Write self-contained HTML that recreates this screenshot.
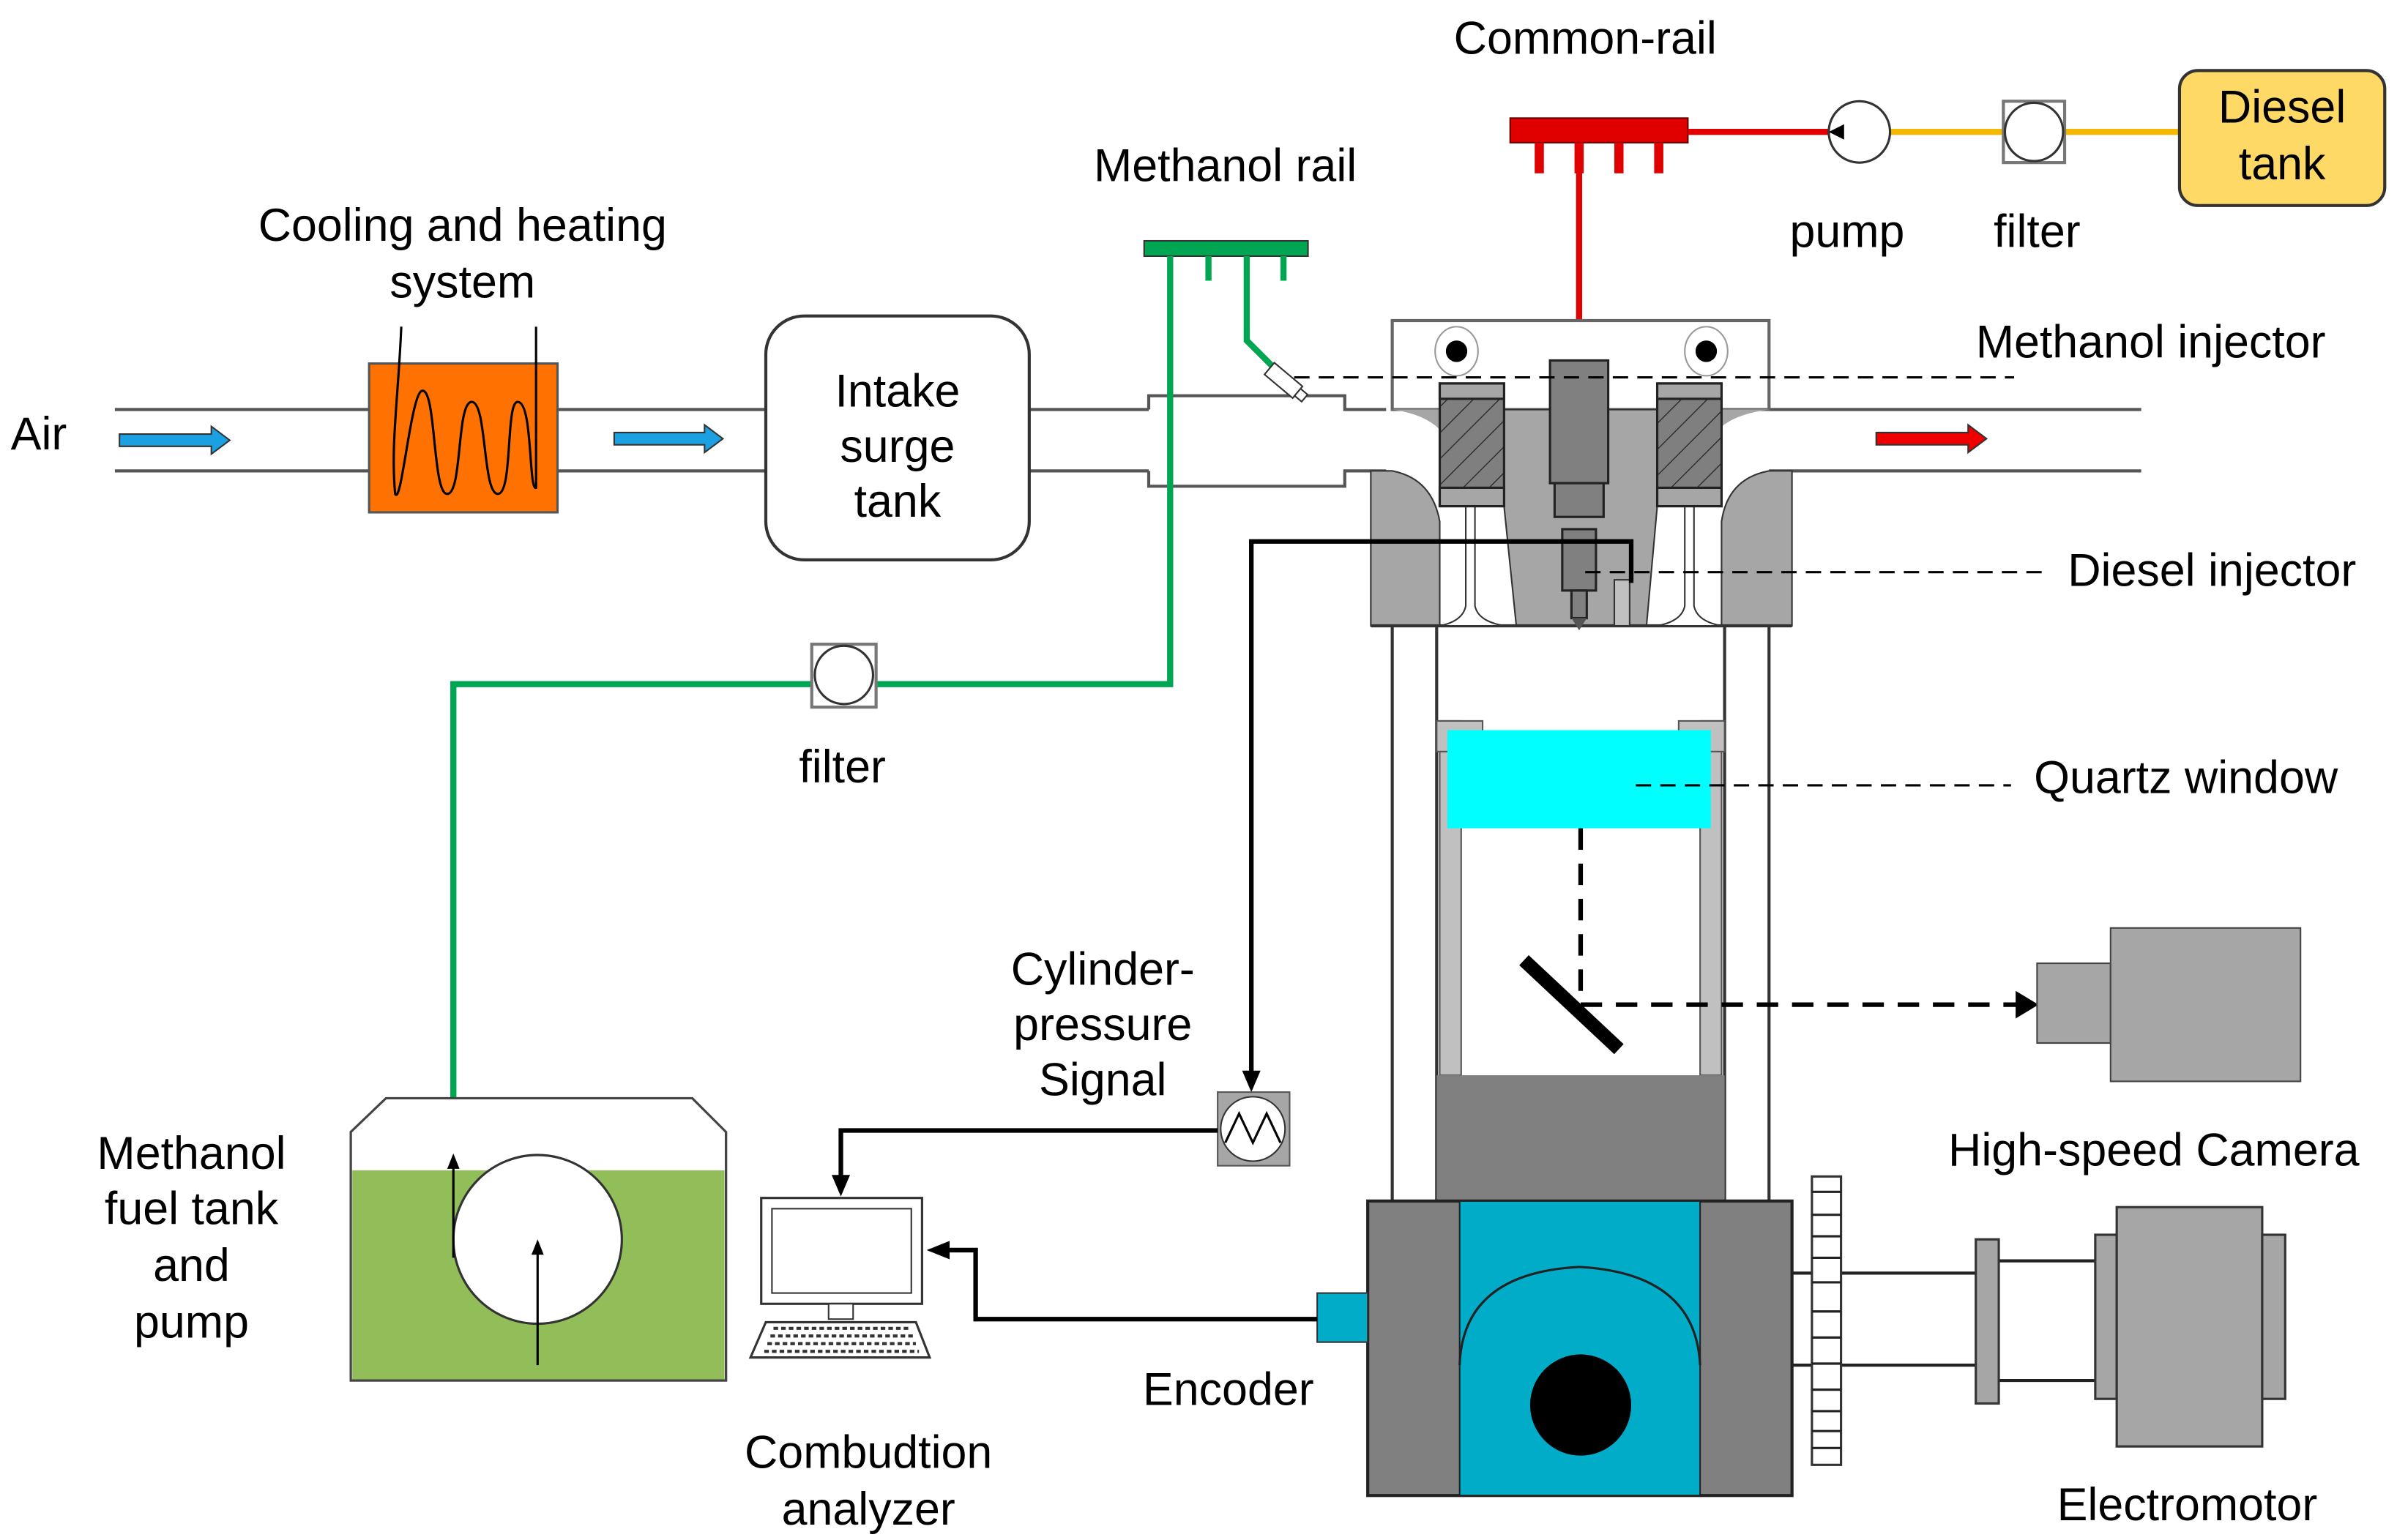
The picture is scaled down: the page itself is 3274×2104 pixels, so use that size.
<!DOCTYPE html>
<html><head><meta charset="utf-8"><style>html,body{margin:0;padding:0;background:#fff}svg{display:block}text{font-family:"Liberation Sans","DejaVu Sans",sans-serif;font-size:30px;fill:#000}</style></head>
<body>
<svg width="3274" height="2104" viewBox="0 0 1565 1004" preserveAspectRatio="none" xmlns="http://www.w3.org/2000/svg">
<defs>
<pattern id="hatch" width="12" height="12" patternUnits="userSpaceOnUse" patternTransform="rotate(45)"><rect width="12" height="12" fill="#7f7f7f"/><line x1="0" y1="0" x2="0" y2="12" stroke="#222" stroke-width="1.2"/></pattern>
</defs>
<g stroke="#555" stroke-width="2" fill="none">
<line x1="75" y1="267" x2="500" y2="267"/><line x1="75" y1="307" x2="500" y2="307"/>
<line x1="672" y1="267" x2="750" y2="267"/><line x1="672" y1="307" x2="750" y2="307"/>
<path d="M750,267 V258 H878 V267 H905"/><path d="M750,307 V317 H878 V307 H905"/>
<line x1="1155" y1="267" x2="1398" y2="267"/><line x1="1155" y1="307" x2="1398" y2="307"/>
</g>
<rect x="241" y="237" width="123" height="97" fill="#ff7100" stroke="#555" stroke-width="1.5"/>
<path d="M262,213 C260,260 255,290 258,322 C262,330 268,260 275,255 C285,250 282,322 292,322 C302,322 298,262 308,262 C318,262 315,322 325,322 C335,322 330,262 338,262 C348,262 345,320 350,318 L350,213" fill="none" stroke="#000" stroke-width="1.5"/>
<g stroke="#333" stroke-width="1">
<path d="M78,283 H138 V278 L150,287 L138,296 V291 H78 z" fill="#1ba1e2"/>
<path d="M401,282 H460 V277 L472,286 L460,295 V290 H401 z" fill="#1ba1e2"/>
<path d="M1225,282 H1285 V277 L1297,286 L1285,295 V290 H1225 z" fill="#e00"/>
</g>
<rect x="500" y="206" width="172" height="159" rx="25" fill="#fff" stroke="#333" stroke-width="2"/>
<text x="586" y="265" text-anchor="middle">Intake</text><text x="586" y="301" text-anchor="middle">surge</text><text x="586" y="337" text-anchor="middle">tank</text>
<rect x="747" y="157" width="107" height="10" fill="#00a651" stroke="#333"/>
<g stroke="#00a651" stroke-width="4" fill="none">
<line x1="789" y1="167" x2="789" y2="183"/><line x1="814" y1="167" x2="814" y2="183"/><line x1="838" y1="167" x2="838" y2="183"/>
<path d="M764,167 V446 H572"/><path d="M530,446 H296 V755"/>
<path d="M814,183 V222 L832,240"/>
</g>
<g transform="translate(838,248) rotate(40)"><rect x="-12" y="-5" width="24" height="10" fill="#fff" stroke="#333"/><rect x="12" y="-3" width="6" height="6" fill="#fff" stroke="#333"/></g>
<rect x="530" y="420" width="42" height="41" fill="#fff" stroke="#777" stroke-width="2"/><circle cx="551" cy="440" r="19" fill="#fff" stroke="#333" stroke-width="1.5"/>
<rect x="986" y="77" width="116" height="16" fill="#e00000" stroke="#600"/>
<g stroke="#e00000" stroke-width="6"><line x1="1005" y1="93" x2="1005" y2="113"/><line x1="1031" y1="93" x2="1031" y2="113"/><line x1="1057" y1="93" x2="1057" y2="113"/><line x1="1083" y1="93" x2="1083" y2="113"/></g>
<line x1="1031" y1="93" x2="1031" y2="236" stroke="#e00000" stroke-width="4"/>
<line x1="1102" y1="86" x2="1195" y2="86" stroke="#e00000" stroke-width="4"/>
<line x1="1233" y1="86" x2="1308" y2="86" stroke="#f5b800" stroke-width="4"/><line x1="1348" y1="86" x2="1423" y2="86" stroke="#f5b800" stroke-width="4"/>
<circle cx="1214" cy="86" r="20" fill="#fff" stroke="#333" stroke-width="1.5"/><path d="M1194,86 l10,-5 v10z" fill="#000"/>
<rect x="1308" y="66" width="40" height="40" fill="#fff" stroke="#777" stroke-width="2"/><circle cx="1328" cy="86" r="19" fill="#fff" stroke="#333" stroke-width="1.5"/>
<rect x="1423" y="46" width="134" height="88" rx="12" fill="#ffd966" stroke="#333" stroke-width="2"/>
<text x="1490" y="80" text-anchor="middle">Diesel</text><text x="1490" y="117" text-anchor="middle">tank</text>
<rect x="909" y="209" width="246" height="58" fill="#fff" stroke="#666" stroke-width="2"/>
<path d="M895,307 H909 Q935,312 940,340 V408 H895 z" fill="#a6a6a6" stroke="#333" stroke-width="1"/>
<path d="M1170,307 H1155 Q1128,312 1124,340 V408 H1170 z" fill="#a6a6a6" stroke="#333" stroke-width="1"/>
<path d="M982,267 H1082 V330 L1075,408 H990 L982,330 z" fill="#a6a6a6" stroke="#333"/>
<path d="M909,267 Q930,270 940,280 V267z M1155,267 Q1132,270 1122,280 V267z" fill="#a6a6a6"/>
<line x1="895" y1="408" x2="1170" y2="408" stroke="#333" stroke-width="2"/>
<g fill="#fff" stroke="#333" stroke-width="1"><path d="M957,330 V395 Q955,405 940,408 H982 Q965,405 963,395 V330z"/><path d="M1100,330 V395 Q1098,405 1082,408 H1124 Q1108,405 1106,395 V330z"/></g>
<g stroke="#222" stroke-width="1.5"><rect x="940" y="250" width="42" height="80" fill="url(#hatch)"/><rect x="940" y="250" width="42" height="10" fill="#a6a6a6"/><rect x="940" y="318" width="42" height="12" fill="#a6a6a6"/>
<rect x="1082" y="250" width="42" height="80" fill="url(#hatch)"/><rect x="1082" y="250" width="42" height="10" fill="#a6a6a6"/><rect x="1082" y="318" width="42" height="12" fill="#a6a6a6"/></g>
<g fill="none" stroke="#999"><ellipse cx="951" cy="229" rx="14" ry="16"/><ellipse cx="1114" cy="229" rx="14" ry="16"/></g>
<circle cx="951" cy="229" r="7" fill="#000"/><circle cx="1114" cy="229" r="7" fill="#000"/>
<g fill="#808080" stroke="#222" stroke-width="1.5"><rect x="1012" y="235" width="38" height="80"/><rect x="1015" y="315" width="32" height="22"/><rect x="1020" y="345" width="22" height="40"/><rect x="1026" y="385" width="10" height="18"/></g>
<path d="M1026,403 l5,8 l5,-8z" fill="#555"/>
<rect x="1054" y="378" width="10" height="30" fill="#c0c0c0" stroke="#333"/>
<g stroke="#333" stroke-width="2"><line x1="909" y1="408" x2="909" y2="783"/><line x1="1155" y1="408" x2="1155" y2="783"/><line x1="938" y1="408" x2="938" y2="783"/><line x1="1126" y1="408" x2="1126" y2="783"/></g>
<rect x="940" y="470" width="14" height="231" fill="#c0c0c0" stroke="#555"/><rect x="1110" y="470" width="14" height="231" fill="#c0c0c0" stroke="#555"/>
<rect x="938" y="470" width="30" height="20" fill="#c0c0c0" stroke="#555"/><rect x="1096" y="470" width="30" height="20" fill="#c0c0c0" stroke="#555"/>
<rect x="945" y="476" width="172" height="64" fill="#00ffff"/>
<rect x="938" y="701" width="188" height="82" fill="#808080"/>
<line x1="995" y1="626" x2="1057" y2="684" stroke="#000" stroke-width="9"/>
<path d="M1032,540 V655 H1320" fill="none" stroke="#000" stroke-width="3" stroke-dasharray="14,9"/>
<path d="M1316,646 L1331,655 L1316,664z" fill="#000"/>
<rect x="1330" y="628" width="48" height="52" fill="#a6a6a6" stroke="#444"/><rect x="1378" y="605" width="124" height="100" fill="#a6a6a6" stroke="#444"/>
<rect x="893" y="783" width="277" height="192" fill="#808080" stroke="#222" stroke-width="2"/>
<rect x="953" y="783" width="157" height="192" fill="#00acc8" stroke="#222"/>
<path d="M953,890 Q955,830 1031,826 Q1107,830 1110,890" fill="none" stroke="#222" stroke-width="1.5"/>
<ellipse cx="1032" cy="916" rx="33" ry="33" fill="#000"/>
<rect x="860" y="843" width="33" height="32" fill="#00acc8" stroke="#333"/>
<g stroke="#222" stroke-width="2"><line x1="1170" y1="830" x2="1290" y2="830"/><line x1="1170" y1="890" x2="1290" y2="890"/><line x1="1305" y1="822" x2="1368" y2="822"/><line x1="1305" y1="900" x2="1368" y2="900"/></g>
<rect x="1183" y="767" width="19" height="188" fill="#fff" stroke="#333" stroke-width="1.5"/>
<g stroke="#222" stroke-width="1.5"><line x1="1183" y1="777" x2="1202" y2="777"/><line x1="1183" y1="792" x2="1202" y2="792"/><line x1="1183" y1="806" x2="1202" y2="806"/><line x1="1183" y1="820" x2="1202" y2="820"/><line x1="1183" y1="836" x2="1202" y2="836"/><line x1="1183" y1="855" x2="1202" y2="855"/><line x1="1183" y1="872" x2="1202" y2="872"/><line x1="1183" y1="889" x2="1202" y2="889"/><line x1="1183" y1="906" x2="1202" y2="906"/><line x1="1183" y1="920" x2="1202" y2="920"/><line x1="1183" y1="933" x2="1202" y2="933"/><line x1="1183" y1="944" x2="1202" y2="944"/></g>
<g fill="#a6a6a6" stroke="#333" stroke-width="1.5"><rect x="1290" y="808" width="15" height="107"/><rect x="1368" y="805" width="14" height="107"/><rect x="1382" y="787" width="95" height="156"/><rect x="1477" y="805" width="15" height="107"/></g>
<path d="M817,705 V353 H1065 V380" fill="none" stroke="#000" stroke-width="3"/>
<path d="M811,698 L817,712 L823,698z" fill="#000"/>
<rect x="795" y="712" width="47" height="48" fill="#a6a6a6" stroke="#555"/><circle cx="818" cy="736" r="21" fill="#fff" stroke="#333"/>
<path d="M800,745 L809,726 L818,745 L827,726 L836,745" fill="none" stroke="#000" stroke-width="1.5"/>
<path d="M795,737 H549 V768" fill="none" stroke="#000" stroke-width="3"/><path d="M543,766 L549,780 L555,766z" fill="#000"/>
<path d="M860,860 H637 V815 H618" fill="none" stroke="#000" stroke-width="3"/><path d="M620,809 L605,815 L620,821z" fill="#000"/>
<rect x="497" y="781" width="105" height="69" fill="#fff" stroke="#333" stroke-width="1.5"/><rect x="504" y="788" width="91" height="55" fill="#fff" stroke="#333"/>
<rect x="541" y="850" width="16" height="10" fill="#fff" stroke="#333"/>
<path d="M500,862 H598 L607,885 H490z" fill="#fff" stroke="#333" stroke-width="1.5"/>
<path d="M505,866 H593 M503,871 H596 M501,876 H598 M499,881 H600" stroke="#333" stroke-width="2" stroke-dasharray="3,2"/>
<path d="M252,716 H452 L474,738 V900 H229 V738 z" fill="#fff" stroke="#444" stroke-width="1.5"/>
<rect x="230" y="763" width="243" height="137" fill="#92be5a"/>
<path d="M229,738 V900 H474 V738" fill="none" stroke="#444" stroke-width="1.5"/>
<circle cx="351" cy="808" r="55" fill="#fff" stroke="#333" stroke-width="1.5"/>
<line x1="296" y1="820" x2="296" y2="758" stroke="#000" stroke-width="1.5"/><path d="M292,762 L296,752 L300,762z" fill="#000"/>
<line x1="351" y1="890" x2="351" y2="815" stroke="#000" stroke-width="1.5"/><path d="M347,818 L351,808 L355,818z" fill="#000"/>
<g stroke="#000" stroke-width="1.5" stroke-dasharray="10,6" fill="none"><line x1="845" y1="246" x2="1315" y2="246"/><line x1="1035" y1="373" x2="1335" y2="373"/><line x1="1068" y1="512" x2="1313" y2="512"/></g>
<text x="1035" y="35" text-anchor="middle">Common-rail</text>
<text x="800" y="118" text-anchor="middle">Methanol rail</text>
<text x="302" y="157" text-anchor="middle">Cooling and heating</text><text x="302" y="194" text-anchor="middle">system</text>
<text x="7" y="293">Air</text>
<text x="1206" y="161" text-anchor="middle">pump</text><text x="1330" y="161" text-anchor="middle">filter</text>
<text x="1290" y="233">Methanol injector</text>
<text x="1350" y="382">Diesel injector</text>
<text x="1328" y="517">Quartz window</text>
<text x="550" y="510" text-anchor="middle">filter</text>
<text x="720" y="642" text-anchor="middle">Cylinder-</text><text x="720" y="678" text-anchor="middle">pressure</text><text x="720" y="714" text-anchor="middle">Signal</text>
<text x="1272" y="760">High-speed Camera</text>
<text x="125" y="762" text-anchor="middle">Methanol</text><text x="125" y="798" text-anchor="middle">fuel tank</text><text x="125" y="835" text-anchor="middle">and</text><text x="125" y="872" text-anchor="middle">pump</text>
<text x="802" y="916" text-anchor="middle">Encoder</text>
<text x="567" y="957" text-anchor="middle">Combudtion</text><text x="567" y="994" text-anchor="middle">analyzer</text>
<text x="1428" y="991" text-anchor="middle">Electromotor</text>
</svg>
</body></html>
